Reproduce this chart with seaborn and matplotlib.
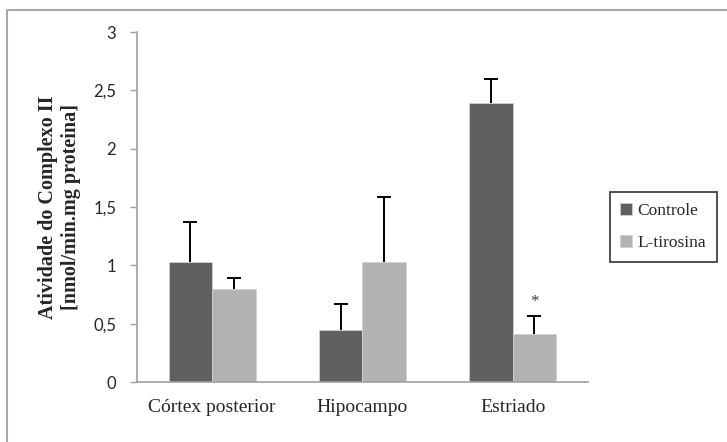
import numpy as np
import pandas as pd
import seaborn as sns
import matplotlib.pyplot as plt
from matplotlib.lines import Line2D

regioes = ['Córtex posterior', 'Hipocampo', 'Estriado']
grupos = ['Controle', 'L-tirosina']
controle = [1.03, 0.45, 2.39]
controle_ep = [0.34, 0.22, 0.21]
tirosina = [0.80, 1.03, 0.41]
tirosina_ep = [0.09, 0.56, 0.16]

df = pd.DataFrame({'Regiao': regioes * 2,
                   'Grupo': [grupos[0]] * 3 + [grupos[1]] * 3,
                   'Valor': controle + tirosina,
                   'EP': controle_ep + tirosina_ep})

sns.set_style('white')
plt.rcParams['font.family'] = ['Liberation Serif', 'DejaVu Serif']

fig = plt.figure(figsize = (7.27, 4.42), dpi = 100, facecolor = 'white')
ax = fig.add_axes([0.1884, 0.1357, 0.62, 0.7919])

cores = {'Controle': '#606060', 'L-tirosina': '#b2b2b2'}
sns.barplot(data = df, x = 'Regiao', y = 'Valor', hue = 'Grupo',
            palette = cores, width = 0.58, errorbar = None,
            edgecolor = '#d0d0d0', linewidth = 0.6, ax = ax)

# barras de erro (somente para cima, sem tampa inferior)
for cont, grupo in zip(ax.containers, grupos):
    sub = df[df['Grupo'] == grupo]
    xs = [b.get_x() + b.get_width() / 2 for b in cont]
    eb = ax.errorbar(xs, sub['Valor'], yerr = [np.zeros(3), sub['EP']],
                     fmt = 'none', ecolor = 'black', elinewidth = 1.4,
                     capsize = 5, capthick = 1.4)
    eb[1][0].set_visible(False)

# asterisco no Estriado / L-tirosina
b = ax.containers[1][2]
ax.text(b.get_x() + b.get_width() / 2, tirosina[2] + tirosina_ep[2] + 0.12,
        '*', ha = 'center', va = 'center', fontsize = 12, color = '#404040')

ax.set_ylim(0, 3)
ax.set_xlim(-0.5, 2.5)
ax.set_yticks(np.arange(0, 3.01, 0.5))
ax.set_yticklabels(['0', '0,5', '1', '1,5', '2', '2,5', '3'],
                   family = 'Lato', fontsize = 12)
ax.tick_params(axis = 'y', direction = 'out', length = 5, color = '#a0a0a0',
               width = 1, left = True, pad = 10)
ax.tick_params(axis = 'x', length = 0, labelsize = 14, pad = 12)
ax.set_xlabel('')
ax.set_ylabel('Atividade do Complexo II\n[nmol/min.mg proteina]',
              fontsize = 14.5, fontweight = 'bold', labelpad = 9)

for s in ['top', 'right']:
    ax.spines[s].set_visible(False)
for s in ['left', 'bottom']:
    ax.spines[s].set_color('#a0a0a0')
    ax.spines[s].set_linewidth(1.2)

leg = ax.legend(loc = 'center left', bbox_to_anchor = (1.03, 0.443),
                fontsize = 12.5, frameon = True, fancybox = False,
                edgecolor = 'black', handlelength = 0.7, handleheight = 0.7,
                handletextpad = 0.3, labelspacing = 0.95, borderpad = 0.6)
leg.get_frame().set_linewidth(1.2)

# moldura externa (somente topo e esquerda visiveis)
fig.add_artist(Line2D([7 / 727, 1], [1 - 10 / 442, 1 - 10 / 442],
                      color = '#a8a8a8', lw = 1.5))
fig.add_artist(Line2D([7 / 727, 7 / 727], [0, 1 - 10 / 442],
                      color = '#a8a8a8', lw = 1.5))

plt.savefig('out.png', dpi = 100)
